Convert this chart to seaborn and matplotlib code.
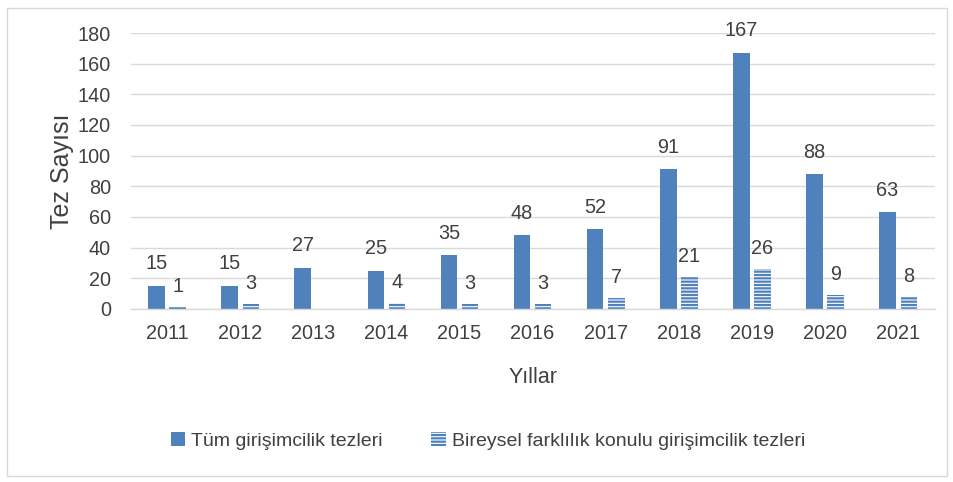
import matplotlib
matplotlib.use("Agg")
import matplotlib.pyplot as plt
import seaborn as sns
import pandas as pd
import numpy as np
from matplotlib.patches import Rectangle, Patch

years = ["2011", "2012", "2013", "2014", "2015", "2016", "2017", "2018", "2019", "2020", "2021"]
all_theses = [15, 15, 27, 25, 35, 48, 52, 91, 167, 88, 63]
individual_theses = [1, 3, 0, 4, 3, 3, 7, 21, 26, 9, 8]
series_names = ["Tüm girişimcilik tezleri", "Bireysel farklılık konulu girişimcilik tezleri"]

df = pd.DataFrame({
    "Yıl": years * 2,
    "Değer": all_theses + individual_theses,
    "Seri": [series_names[0]] * len(years) + [series_names[1]] * len(years),
})

sns.set_theme(style="white")
plt.rcParams['font.family'] = ["Liberation Sans", "DejaVu Sans"]
plt.rcParams['hatch.linewidth'] = 1.6

blue = "#4F81BD"
txt = "#404040"

fig = plt.figure(figsize=(9.54, 4.82), dpi=100)
ax = fig.add_axes([0.1368, 0.359, 0.843, 0.5725])

sns.barplot(data=df, x="Yıl", y="Değer", hue="Seri", order=years, hue_order=series_names,
            palette=[blue, "white"], width=0.58, gap=0.22, ax=ax, legend=False,
            linewidth=0, saturation=1)

cont_all, cont_ind = ax.containers[0], ax.containers[1]
for p in cont_ind:
    p.set_facecolor("white")
    p.set_edgecolor(blue)
    p.set_hatch("-----")
    p.set_linewidth(0)

ax.bar_label(cont_all, labels=[f"{v}" for v in all_theses], padding=9, fontsize=14.3, color=txt)
ax.bar_label(cont_ind, labels=["" if v == 0 else f"{v}" for v in individual_theses],
             padding=8, fontsize=14.3, color=txt)

ax.set_ylim(0, 180)
ax.set_yticks(range(0, 181, 20))
ax.set_xlim(-0.5, len(years) - 0.5)
ax.yaxis.grid(True, color="#d9d9d9", linewidth=1)
ax.set_axisbelow(True)
for s in ["top", "right", "left"]:
    ax.spines[s].set_visible(False)
ax.spines["bottom"].set_color("#d9d9d9")
ax.spines["bottom"].set_linewidth(1)
ax.tick_params(axis="both", length=0, labelsize=14.3, colors=txt)
ax.tick_params(axis="y", pad=14)
ax.tick_params(axis="x", pad=11)
ax.set_xlabel("Yıllar", fontsize=15.5, color=txt, labelpad=17)
ax.set_ylabel("Tez Sayısı", fontsize=18, color=txt, labelpad=3)

handles = [Patch(facecolor=blue, edgecolor=blue, linewidth=0),
           Patch(facecolor="white", edgecolor=blue, hatch="-----", linewidth=0)]
fig.legend(handles, series_names, loc="center", bbox_to_anchor=(0.5115, 0.085), ncol=2,
           frameon=False, fontsize=14, labelcolor=txt, handlelength=0.75,
           handleheight=0.75, handletextpad=0.3, columnspacing=2.5)

fig.patches.append(Rectangle((0.007, 0.012), 0.986, 0.972, transform=fig.transFigure,
                             fill=False, edgecolor="#d9d9d9", linewidth=1))

fig.savefig("out.png", dpi=100)
